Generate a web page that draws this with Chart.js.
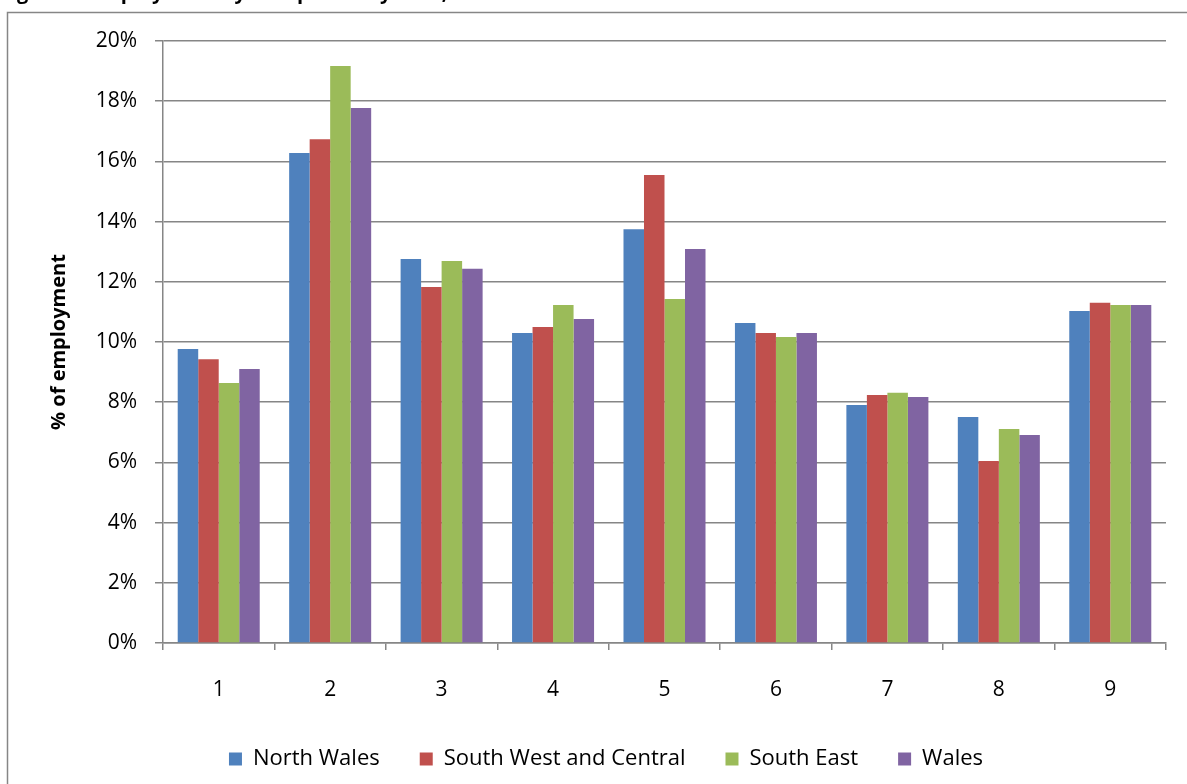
<!DOCTYPE html>
<html><head><meta charset="utf-8">
<script src="https://cdn.jsdelivr.net/npm/chart.js@4"></script>
<style>html,body{margin:0;padding:0;background:#fff;overflow:hidden}canvas{display:block}</style>
</head><body>
<canvas id="c" width="1187" height="784"></canvas>
<script>
const titleText = 'Figure 3: Employment by occupation by area, 2011';
const categories = ['1','2','3','4','5','6','7','8','9'];
const seriesNames = ['North Wales','South West and Central','South East','Wales'];
const northWales       = [9.77,16.28,12.76,10.30,13.75,10.63,7.91,7.51,11.03];
const southWestCentral = [9.43,16.74,11.83,10.50,15.55,10.30,8.24,6.05,11.30];
const southEast        = [8.64,19.17,12.69,11.23,11.43,10.17,8.31,7.11,11.23];
const wales            = [9.10,17.77,12.43,10.76,13.09,10.30,8.17,6.91,11.23];
const yTickValues = [0,2,4,6,8,10,12,14,16,18,20];
const colors = ['#4F81BD','#C0504D','#9BBB59','#8064A2'];

const FONT = '"Open Sans", "Noto Sans", sans-serif';
Chart.defaults.font.family = FONT;
Chart.defaults.color = '#000';

const GRID = '#868686';
const PAD_BOTTOM = 4;

const frame = {
  id: 'frame',
  beforeDraw(chart) {
    const ctx = chart.ctx;
    ctx.save();
    ctx.fillStyle = '#fff';
    ctx.fillRect(0, 0, chart.width, chart.height);
    ctx.strokeStyle = GRID;
    ctx.lineWidth = 1.5;
    ctx.strokeRect(7.5, 12.5, 1300, 900);
    ctx.fillStyle = '#000';
    ctx.font = 'bold 20px ' + FONT;
    ctx.textBaseline = 'alphabetic';
    ctx.fillText(titleText, 0, -1);
    ctx.restore();
  }
};

const allSeries = [northWales, southWestCentral, southEast, wales];

new Chart(document.getElementById('c'), {
  type: 'bar',
  data: {
    labels: categories,
    datasets: allSeries.map((d, i) => ({
      label: seriesNames[i],
      data: d,
      backgroundColor: colors[i],
      borderWidth: 0,
      categoryPercentage: 0.736,
      barPercentage: 1.0
    }))
  },
  options: {
    responsive: false,
    animation: false,
    layout: { padding: { top: 41, left: 46, right: 21, bottom: PAD_BOTTOM } },
    plugins: {
      tooltip: { enabled: false },
      legend: {
        position: 'bottom',
        labels: { boxWidth: 13, boxHeight: 13, padding: 40, color: '#000', font: { size: 22 } }
      }
    },
    scales: {
      x: {
        grid: { display: true, drawOnChartArea: false, drawTicks: true, tickLength: 7, color: GRID, lineWidth: 1.5, offset: true },
        border: { color: GRID, width: 1.5 },
        ticks: { color: '#000', font: { size: 21 }, padding: 27, maxRotation: 0 },
        afterFit(s) {
          const lh = s.chart.legend ? s.chart.legend.height : 0;
          s.height = 784 - 643 - PAD_BOTTOM - lh;
        }
      },
      y: {
        min: 0, max: 20,
        afterBuildTicks(s) { s.ticks = yTickValues.map(v => ({ value: v })); },
        ticks: { stepSize: 2, callback: v => v + '%', color: '#000', font: { size: 21 }, padding: 18 },
        grid: { color: GRID, lineWidth: 1.5, tickLength: 8, drawTicks: true },
        border: { color: GRID, width: 1.5 },
        title: { display: true, text: '% of employment', color: '#000', font: { size: 20, weight: 'bold' }, padding: { top: 1, bottom: 0 } },
        afterFit(s) { s.width = 163 - 46; }
      }
    }
  },
  plugins: [frame]
});
</script>
</body></html>
